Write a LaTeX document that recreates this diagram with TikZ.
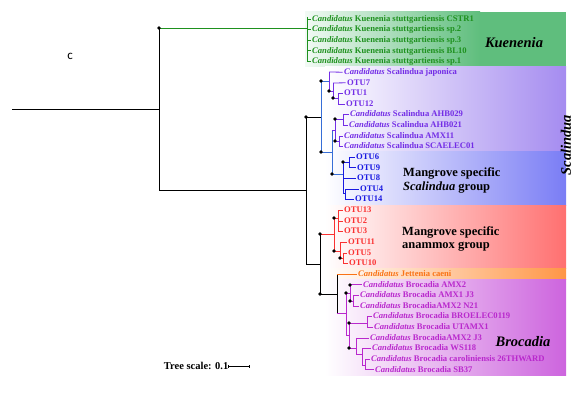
\documentclass[tikz,border=0pt]{standalone}
\usepackage{fontspec}
\setmainfont{Liberation Serif}
\newfontfamily\calibfont{Carlito}
\newcommand\cand{\textit{Candidatus}}
\definecolor{kg}{RGB}{30,145,30}
\definecolor{sbl}{RGB}{55,110,215}
\definecolor{spu}{RGB}{115,45,230}
\definecolor{otb}{RGB}{25,25,225}
\definecolor{rd}{RGB}{250,50,50}
\definecolor{org}{RGB}{250,115,20}
\definecolor{mg}{RGB}{185,40,205}
\definecolor{bxk}{RGB}{95,190,125}
\definecolor{bxs}{RGB}{165,140,240}
\definecolor{bxb}{RGB}{122,125,245}
\definecolor{bxr}{RGB}{255,112,112}
\definecolor{bxo}{RGB}{255,150,70}
\definecolor{bxm}{RGB}{205,100,222}
\begin{document}
\begin{tikzpicture}[x=1pt,y=-1pt,
  lf/.style={anchor=west, inner xsep=1.5pt, inner ysep=0pt, font=\fontsize{8.6}{10}\selectfont\bfseries, text height=6pt, text depth=1.5pt},
  br/.style={line width=0.8pt},
  dot/.style={circle, fill=black, inner sep=0pt, minimum size=3.8pt},
  big/.style={font=\fontsize{14.5}{16}\selectfont\bfseries\itshape},
  grp/.style={anchor=west, inner sep=0pt, font=\fontsize{12.5}{14}\selectfont\bfseries}]
\useasboundingbox (0,0) rectangle (580,393);
% background boxes
\shade[left color=bxk!8, right color=bxk] (305,12) rectangle (480,66.8);
\fill[bxk] (479.5,12) rectangle (566,66.8);
\shade[left color=white, right color=bxs] (325,66.8) rectangle (566,151.9);
\shade[left color=white, right color=bxb] (325,151.9) rectangle (566,205);
\shade[left color=white, right color=bxr] (325,205) rectangle (566,268.8);
\shade[left color=white, right color=bxo] (325,268.8) rectangle (566,279.5);
\shade[left color=white, right color=bxm] (325,279.5) rectangle (566,375.5);
% leaves
\begin{scope}[text=kg]
\node[lf] (k1) at (310.5,19.0) {\cand{} Kuenenia stuttgartiensis CSTR1};
\node[lf] (k2) at (310.5,29.6) {\cand{} Kuenenia stuttgartiensis sp.2};
\node[lf] (k3) at (310.5,40.3) {\cand{} Kuenenia stuttgartiensis sp.3};
\node[lf] (k4) at (310.5,50.9) {\cand{} Kuenenia stuttgartiensis BL10};
\node[lf] (k5) at (310.5,61.5) {\cand{} Kuenenia stuttgartiensis sp.1};
\end{scope}
\begin{scope}[text=spu]
\node[lf] (s1) at (342.5,72.2) {\cand{} Scalindua japonica};
\node[lf] (s2) at (345.5,82.8) {OTU7};
\node[lf] (s3) at (342.5,93.4) {OTU1};
\node[lf] (s4) at (344.5,104.0) {OTU12};
\node[lf] (s5) at (348.5,114.7) {\cand{} Scalindua AHB029};
\node[lf] (s6) at (347.5,125.3) {\cand{} Scalindua AHB021};
\node[lf] (s7) at (342.5,135.9) {\cand{} Scalindua AMX11};
\node[lf] (s8) at (342.5,146.6) {\cand{} Scalindua SCAELEC01};
\end{scope}
\begin{scope}[text=otb]
\node[lf] (o6) at (354.5,157.2) {OTU6};
\node[lf] (o9) at (355.5,167.8) {OTU9};
\node[lf] (o8) at (355.5,178.5) {OTU8};
\node[lf] (o4) at (358.5,189.1) {OTU4};
\node[lf] (o14) at (353.5,199.7) {OTU14};
\end{scope}
\begin{scope}[text=rd]
\node[lf] (o13) at (342.5,210.3) {OTU13};
\node[lf] (o2) at (342.5,221.0) {OTU2};
\node[lf] (o3) at (342.5,231.6) {OTU3};
\node[lf] (o11) at (346.5,242.2) {OTU11};
\node[lf] (o5) at (346.5,252.9) {OTU5};
\node[lf] (o10) at (347.5,263.5) {OTU10};
\end{scope}
\node[lf, text=org] (je) at (356.5,274.1) {\cand{} Jettenia caeni};
\begin{scope}[text=mg]
\node[lf] (b1) at (361.5,284.8) {\cand{} Brocadia AMX2};
\node[lf] (b2) at (358.5,295.4) {\cand{} Brocadia AMX1 J3};
\node[lf] (b3) at (358.5,306.0) {\cand{} BrocadiaAMX2 N21};
\node[lf] (b4) at (371.5,316.6) {\cand{} Brocadia BROELEC0119};
\node[lf] (b5) at (372.5,327.3) {\cand{} Brocadia UTAMX1};
\node[lf] (b6) at (368.5,337.9) {\cand{} BrocadiaAMX2 J3};
\node[lf] (b7) at (370.5,348.5) {\cand{} Brocadia WS118};
\node[lf] (b8) at (369.5,359.2) {\cand{} Brocadia caroliniensis 26THWARD};
\node[lf] (b9) at (373.5,369.8) {\cand{} Brocadia SB37};
\end{scope}
% black backbone
\begin{scope}[br, black]
\draw (12,109) -- (159,109);
\draw (159,28) -- (159,190) -- (306,190);
\draw (306,117) -- (306,264) -- (320,264);
\draw (306,117) -- (321,117);
\draw (320,234) -- (320,294) -- (337,294);
\draw (337,275) -- (337,313);
\end{scope}
% Kuenenia
\begin{scope}[br, kg]
\draw (159,28) -- (307,28);
\draw (307,17) -- (307,62);
\foreach \n in {k1,k2,k3,k4,k5} \draw (307,0 |- \n.west) -- (\n.west);
\end{scope}
% Scalindua backbone
\begin{scope}[br, sbl]
\draw (329,81) -- (321,81) -- (321,152) -- (332,152);
\draw (332,130) -- (332,174) -- (343,174);
\end{scope}
\begin{scope}[br, spu]
\draw (329,72) -- (329,91) -- (333,91);
\draw (329,72) -- (s1.west);
\draw (333,83) -- (333,98) -- (338,98);
\draw (333,83) -- (s2.west);
\draw (338,93.4) -- (338,104);
\draw (338,93.4) -- (s3.west);
\draw (338,104) -- (s4.west);
\draw (332,130) -- (335,130);
\draw (335,119) -- (335,141);
\draw (335,119) -- (343,119);
\draw (343,114.7) -- (343,125.3);
\draw (343,114.7) -- (s5.west);
\draw (343,125.3) -- (s6.west);
\draw (335,141) -- (339,141);
\draw (339,135.9) -- (339,146.6);
\draw (339,135.9) -- (s7.west);
\draw (339,146.6) -- (s8.west);
\end{scope}
\begin{scope}[br, otb]
\draw (343,162) -- (343,193) -- (345,193);
\draw (343,162) -- (349,162);
\draw (349,157.2) -- (349,167.8);
\draw (349,157.2) -- (o6.west);
\draw (349,167.8) -- (o9.west);
\draw (343,178.5) -- (o8.west);
\draw (345,189.1) -- (345,199.7);
\draw (345,189.1) -- (o4.west);
\draw (345,199.7) -- (o14.west);
\end{scope}
% red
\begin{scope}[br, rd]
\draw (320,234) -- (334,234);
\draw (334,218) -- (334,251) -- (340,251);
\draw (334,218) -- (338,218);
\draw (338,210.3) -- (338,231.6);
\draw (338,210.3) -- (o13.west);
\draw (338,221.0) -- (o2.west);
\draw (338,231.6) -- (o3.west);
\draw (340,242.2) -- (340,258) -- (343,258);
\draw (340,242.2) -- (o11.west);
\draw (343,252.9) -- (343,263.5);
\draw (343,252.9) -- (o5.west);
\draw (343,263.5) -- (o10.west);
\end{scope}
\draw[br, org] (337,274.1) -- (je.west);
% Brocadia
\begin{scope}[br, mg]
\draw (337,313) -- (346,313);
\draw (346,293) -- (346,335) -- (349,335);
\draw (346,293) -- (350,293);
\draw (350,284.8) -- (350,301) -- (353,301);
\draw (350,284.8) -- (b1.west);
\draw (353,295.4) -- (353,306);
\draw (353,295.4) -- (b2.west);
\draw (353,306) -- (b3.west);
\draw (349,323) -- (349,348) -- (356,348);
\draw (349,323) -- (367,323);
\draw (367,316.6) -- (367,327.3);
\draw (367,316.6) -- (b4.west);
\draw (367,327.3) -- (b5.west);
\draw (356,337.9) -- (356,354) -- (362,354);
\draw (356,337.9) -- (b6.west);
\draw (362,348.5) -- (362,365) -- (365,365);
\draw (362,348.5) -- (b7.west);
\draw (365,359.2) -- (365,369.8);
\draw (365,359.2) -- (b8.west);
\draw (365,369.8) -- (b9.west);
\end{scope}
% bootstrap dots
\foreach \p [count=\i] in {(159,28),(306,117),(321,81),(329,91),(333,98),(335,119),(335,141),(321,152),(343,162),(332,174),(320,234),(334,218),(334,251),(340,258),(320,294),(346,293),(350,285),(350,301),(349,323),(349,348)}
  \node[dot] (d\i) at \p {};
% group labels
\node[big] (lk) at (514,43) {Kuenenia};
\node[big, rotate=90] (ls) at (566,145) {Scalindua};
\node[big] (lb) at (523,342) {Brocadia};
\node[grp] (g1) at (403,173) {Mangrove specific};
\node[grp] (g2) at (403,188) {\textit{Scalindua} group};
\node[grp] (g3) at (402,232) {Mangrove specific};
\node[grp] (g4) at (402,247) {anammox group};
% scale
\node[anchor=east, inner sep=0pt, font=\fontsize{10.5}{12}\selectfont\bfseries] (ts) at (228.5,366) {Tree scale: 0.1};
\coordinate (se) at ([xshift=21pt]ts.east);
\draw[line width=0.6pt] (ts.east) -- (se);
\draw[line width=0.6pt] ([yshift=-1.5pt]ts.east) -- ([yshift=1.5pt]ts.east);
\draw[line width=0.6pt] ([yshift=-1.5pt]se) -- ([yshift=1.5pt]se);
\node[font=\calibfont\fontsize{13}{15}\selectfont] (c) at (70,56) {c};
\end{tikzpicture}
\end{document}
